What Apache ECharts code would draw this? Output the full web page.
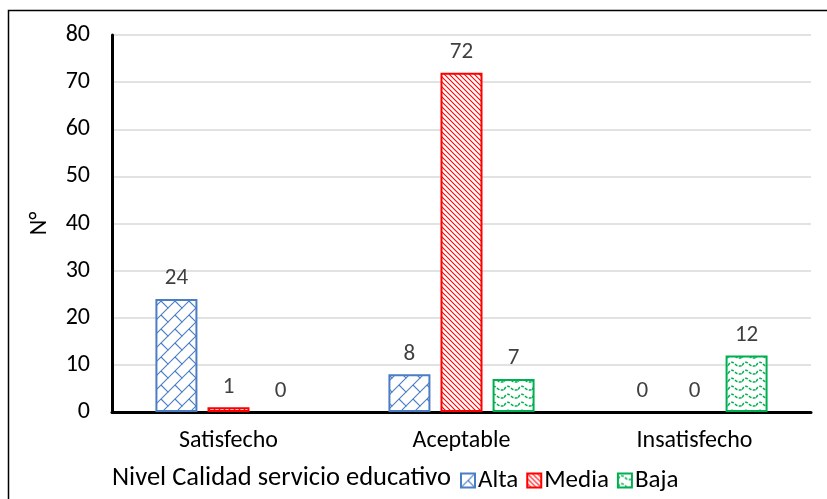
<!DOCTYPE html>
<html>
<head>
<meta charset="utf-8">
<script src="https://cdn.jsdelivr.net/npm/echarts@6/dist/echarts.min.js"></script>
<style>
  html, body { margin: 0; padding: 0; background: #fff; }
  #chart { width: 827px; height: 499px; }
</style>
</head>
<body>
<div id="chart"></div>
<script>
// Survey results: satisfaction level by perceived quality of the educational service
const categories = ['Satisfecho', 'Aceptable', 'Insatisfecho'];
const alta = [24, 8, 0];
const media = [1, 72, 0];
const baja = [0, 7, 12];
const yTicks = [0, 10, 20, 30, 40, 50, 60, 70, 80];

const FONT = 'Carlito, "Open Sans", "Noto Sans", sans-serif';
const BLUE = '#4A7DC4';
const RED = '#FF0000';
const GREEN = '#00B050';

// Hatch fills drawn onto small canvases and repeated inside each bar
function tile(w, h, draw) {
  const c = document.createElement('canvas');
  c.width = w; c.height = h;
  const ctx = c.getContext('2d');
  ctx.fillStyle = '#fff';
  ctx.fillRect(0, 0, w, h);
  draw(ctx, w, h);
  return c;
}

// diagonal brick
const brick = tile(14, 14, (ctx, w, h) => {
  ctx.strokeStyle = BLUE;
  ctx.lineWidth = 1.1;
  ctx.beginPath();
  ctx.moveTo(-1, h + 1); ctx.lineTo(w + 1, -1);
  ctx.moveTo(w / 2, h / 2); ctx.lineTo(w + 1, h + 1);
  ctx.moveTo(-1, -1); ctx.lineTo(0.5, 0.5);
  ctx.stroke();
});

// dense downward diagonal lines
const stripes = tile(5, 5, (ctx, w, h) => {
  ctx.strokeStyle = RED;
  ctx.lineWidth = 1.1;
  ctx.beginPath();
  ctx.moveTo(-1, -1); ctx.lineTo(w + 1, h + 1);
  ctx.moveTo(-1, h - 1); ctx.lineTo(1, h + 1);
  ctx.moveTo(w - 1, -1); ctx.lineTo(w + 1, 1);
  ctx.stroke();
});

// waves
const waves = tile(14, 8, (ctx, w, h) => {
  ctx.strokeStyle = GREEN;
  ctx.lineWidth = 1.5;
  ctx.setLineDash([3, 1.4]);
  ctx.beginPath();
  ctx.moveTo(0, 5.5);
  ctx.bezierCurveTo(2.5, 1.5, 4.5, 1.5, 7, 4);
  ctx.bezierCurveTo(9.5, 6.5, 11.5, 6.5, 14, 5.5);
  ctx.stroke();
});

// zero-height bars get no outline so nothing shows on the baseline
function items(values) {
  return values.map(v => ({ value: v, itemStyle: { borderWidth: v === 0 ? 0 : 2 } }));
}

function barSeries(name, data, img, border) {
  return {
    name: name,
    type: 'bar',
    data: items(data),
    barWidth: 42,
    barGap: '24%',
    itemStyle: {
      color: { image: img, repeat: 'repeat' },
      borderColor: border,
      borderWidth: 2
    },
    label: {
      show: true,
      position: 'top',
      distance: 9,
      color: '#404040',
      fontSize: 23,
      fontFamily: FONT
    }
  };
}

const chart = echarts.init(document.getElementById('chart'), null, { renderer: 'canvas' });
chart.setOption({
  backgroundColor: '#fff',
  animation: false,
  grid: { left: 112, right: 16, top: 35, bottom: 87 },
  xAxis: {
    type: 'category',
    data: categories,
    axisLine: { lineStyle: { color: '#000', width: 3 } },
    axisTick: { show: false },
    axisLabel: { color: '#000', fontSize: 24, fontFamily: FONT, margin: 17 }
  },
  yAxis: {
    type: 'value',
    min: yTicks[0],
    max: yTicks[yTicks.length - 1],
    interval: yTicks[1] - yTicks[0],
    name: 'N°',
    nameLocation: 'middle',
    nameRotate: 90,
    nameGap: 60,
    nameTextStyle: { color: '#000', fontSize: 24, fontFamily: FONT },
    axisLine: { show: true, lineStyle: { color: '#000', width: 3 } },
    axisTick: { show: false },
    axisLabel: { color: '#000', fontSize: 24, fontFamily: FONT, margin: 22 },
    splitLine: { lineStyle: { color: '#d9d9d9', width: 1.5 } }
  },
  legend: {
    left: 455,
    top: 463,
    itemWidth: 14,
    itemHeight: 14,
    itemGap: 8,
    icon: 'rect',
    textStyle: { color: '#000', fontSize: 25, fontFamily: FONT, padding: [0, 0, 0, -2] },
    data: ['Alta', 'Media', 'Baja']
  },
  graphic: [
    {
      type: 'text',
      left: 112,
      top: 465,
      style: { text: 'Nivel Calidad servicio educativo', fill: '#000', fontSize: 26.5, fontFamily: FONT }
    },
    {
      type: 'rect',
      shape: { x: 8.5, y: 10.5, width: 900, height: 600 },
      style: { fill: 'none', stroke: '#000', lineWidth: 1.5 },
      silent: true
    }
  ],
  series: [
    barSeries('Alta', alta, brick, BLUE),
    barSeries('Media', media, stripes, RED),
    barSeries('Baja', baja, waves, GREEN)
  ]
});
</script>
</body>
</html>
